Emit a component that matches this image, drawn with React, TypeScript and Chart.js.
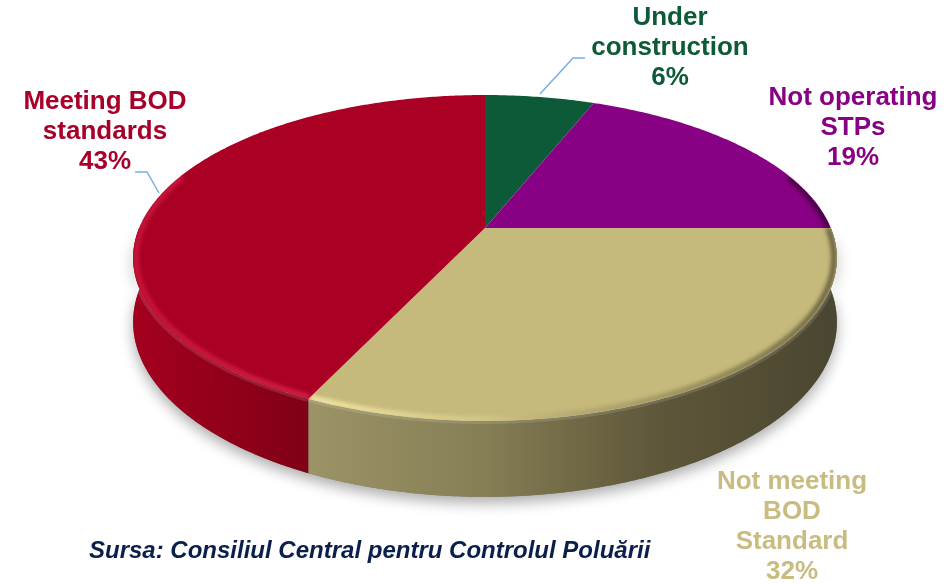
import React, { useEffect, useRef } from "react";
import { Chart, registerables } from "chart.js";

Chart.register(...registerables);

// ---- data ----
const categories = [
  "Under construction",
  "Not operating STPs",
  "Not meeting BOD Standard",
  "Meeting BOD standards",
];
const values = [6, 19, 32, 43];
const labelLines = [
  ["Under", "construction"],
  ["Not operating", "STPs"],
  ["Not meeting", "BOD", "Standard"],
  ["Meeting BOD", "standards"],
];
const sourceText = "Sursa: Consiliul Central pentru Controlul Poluării";

// ---- styles ----
const topColors = ["#0c5a37", "#880083", "#c5b97c", "#a90024"];
const labelColors = ["#0c5a37", "#880083", "#c8bc80", "#a8002a"];
const sideStops: string[][] = [
  ["#0a4a2c", "#06351f"],
  ["#6e006a", "#4a0047"],
  ["#9c9466", "#867e55", "#5e5739", "#4b4631"],
  ["#a3001e", "#920019", "#800016"],
];
// rim (bevel) shading, stops across the full pie width
const rimStops: [number, string][][] = [
  [[0, "rgba(40,140,90,0.5)"], [1, "rgba(0,0,0,0.4)"]],
  [[0, "rgba(180,40,180,0.5)"], [0.6, "rgba(0,0,0,0.2)"], [1, "rgba(0,0,0,0.55)"]],
  [[0, "rgba(255,245,180,0.9)"], [0.3, "rgba(255,240,170,0.85)"], [0.5, "rgba(240,230,160,0.35)"], [0.7, "rgba(70,60,30,0.25)"], [1, "rgba(50,45,25,0.7)"]],
  [[0, "rgba(235,40,80,0.55)"], [0.25, "rgba(240,50,95,0.7)"], [0.5, "rgba(240,60,100,0.6)"]],
];
const labelPos = [
  { x: 670, y: 18 },
  { x: 853, y: 98 },
  { x: 792, y: 482 },
  { x: 105, y: 102 },
];
const LINE_H = 30;

// perspective projection of the disc
const AX = 485;
const AY = 228;
const DD = 5.43;
const RD = 1878;
const BD = 855;
const HD = 336;
const XL = 133;
const XR = 837;

function P(a: number, drop: number, r = 1): [number, number] {
  const u = r * Math.cos(a);
  const v = r * Math.sin(a);
  const w = DD - v;
  return [AX + (RD * u) / w, AY + (BD * v + HD * drop) / w];
}

function edge(ctx: CanvasRenderingContext2D, a0: number, a1: number, drop: number, first: boolean, r = 1) {
  const n = Math.max(2, Math.ceil(Math.abs(a1 - a0) / 0.01));
  for (let i = 0; i <= n; i++) {
    const t = a0 + ((a1 - a0) * i) / n;
    const [x, y] = P(t, drop, r);
    if (first && i === 0) ctx.moveTo(x, y);
    else ctx.lineTo(x, y);
  }
}

const pie3d = {
  id: "pie3d",
  beforeDatasetsDraw(chart: any) {
    const ctx: CanvasRenderingContext2D = chart.ctx;
    const meta = chart.getDatasetMeta(0);
    const arcs = meta.data.map((a: any) => ({ s: a.startAngle as number, e: a.endAngle as number }));

    ctx.save();
    // shadow under side
    ctx.beginPath();
    edge(ctx, 0, Math.PI, 0, true);
    edge(ctx, Math.PI, 0, 1, false);
    ctx.closePath();
    ctx.fillStyle = "#777";
    ctx.shadowColor = "rgba(0,0,0,0.33)";
    ctx.shadowBlur = 14;
    ctx.shadowOffsetY = 6;
    ctx.fill();
    ctx.restore();

    // side walls
    arcs.forEach((arc: any, i: number) => {
      const a0 = Math.max(arc.s, 0);
      const a1 = Math.min(arc.e, Math.PI);
      if (a1 <= a0) return;
      ctx.save();
      ctx.beginPath();
      edge(ctx, a0, a1, 0, true);
      edge(ctx, a1, a0, 1, false);
      ctx.closePath();
      const pA = P(a0, 0)[0];
      const pB = P(a1, 0)[0];
      const g = ctx.createLinearGradient(Math.min(pA, pB), 0, Math.max(pA, pB), 0);
      const stops = sideStops[i];
      stops.forEach((c, k) => g.addColorStop(k / (stops.length - 1), c));
      ctx.fillStyle = g;
      ctx.fill();
      // soft light band just under the top edge
      ctx.clip();
      ctx.beginPath();
      edge(ctx, a0, a1, 0, true);
      ctx.strokeStyle = "rgba(255,255,255,0.12)";
      ctx.lineWidth = 6;
      ctx.stroke();
      ctx.restore();
    });

    // top faces
    arcs.forEach((arc: any, i: number) => {
      ctx.save();
      ctx.beginPath();
      ctx.moveTo(AX, AY);
      edge(ctx, arc.s, arc.e, 0, false);
      ctx.closePath();
      ctx.fillStyle = topColors[i];
      ctx.fill();
      // bevel shading along the front rim, clipped to the face
      const a0 = Math.max(arc.s, -0.35);
      const a1 = Math.min(arc.e, Math.PI + 0.35);
      if (a1 > a0) {
        ctx.clip();
        const g = ctx.createLinearGradient(XL, 0, XR, 0);
        rimStops[i].forEach(([o, c]) => g.addColorStop(o, c));
        ctx.beginPath();
        edge(ctx, a0, a1, 0, true, 0.992);
        ctx.strokeStyle = g;
        ctx.lineWidth = 5;
        ctx.filter = "blur(2px)";
        ctx.stroke();
        ctx.filter = "none";
      }
      ctx.restore();
    });
    return false;
  },
  afterDraw(chart: any) {
    const ctx: CanvasRenderingContext2D = chart.ctx;
    const total = values.reduce((s, v) => s + v, 0);
    ctx.save();
    // leader lines
    ctx.strokeStyle = "#76aeea";
    ctx.lineWidth = 1.5;
    ctx.beginPath();
    ctx.moveTo(540, 94);
    ctx.lineTo(573, 58);
    ctx.lineTo(585, 58);
    ctx.moveTo(159, 193);
    ctx.lineTo(147, 172);
    ctx.lineTo(135, 172);
    ctx.stroke();

    ctx.textAlign = "center";
    ctx.textBaseline = "middle";
    ctx.font = "bold 26px 'Liberation Sans', Arial, sans-serif";
    labelLines.forEach((lines, i) => {
      const all = [...lines, Math.round((values[i] / total) * 100) + "%"];
      ctx.fillStyle = labelColors[i];
      all.forEach((t, k) => {
        ctx.fillText(t, labelPos[i].x, labelPos[i].y + k * LINE_H);
      });
    });

    ctx.textAlign = "left";
    ctx.font = "italic bold 24px 'Liberation Sans', Arial, sans-serif";
    ctx.fillStyle = "#0b1f4d";
    ctx.fillText(sourceText, 89, 551);
    ctx.restore();
  },
};

export default function App() {
  const ref = useRef<HTMLCanvasElement | null>(null);
  useEffect(() => {
    if (!ref.current) return;
    const chart = new Chart(ref.current, {
      type: "pie",
      data: {
        labels: categories,
        datasets: [{ data: values, backgroundColor: topColors, borderWidth: 0 }],
      },
      options: {
        responsive: false,
        animation: false,
        rotation: 0,
        plugins: { legend: { display: false }, tooltip: { enabled: false } },
      },
      plugins: [pie3d],
    } as any);
    return () => chart.destroy();
  }, []);
  return (
    <div style={{ position: "absolute", left: 0, top: 0, width: 946, height: 584, background: "#fff" }}>
      <canvas ref={ref} width={946} height={584} style={{ display: "block" }} />
    </div>
  );
}
